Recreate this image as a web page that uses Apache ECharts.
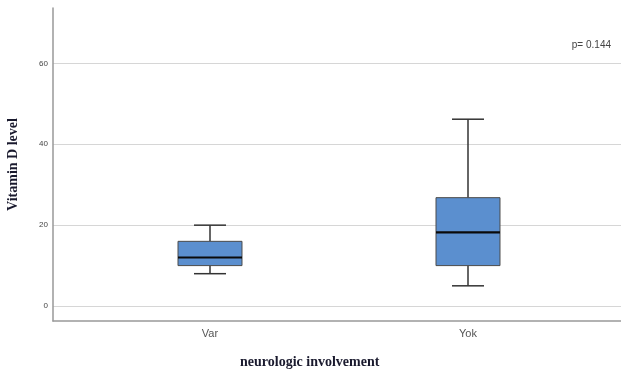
<!DOCTYPE html>
<html>
<head>
<meta charset="utf-8">
<script src="https://cdn.jsdelivr.net/npm/echarts@6/dist/echarts.min.js"></script>
<style>
  html, body { margin: 0; padding: 0; background: #fff; }
  #chart { width: 621px; height: 369px; }
</style>
</head>
<body>
<div id="chart"></div>
<script>
// Groups on the x axis
const categories = ['Var', 'Yok'];
// Five-number summaries per group: [lower whisker, Q1, median, Q3, upper whisker]
const boxStats = [
  [8, 10, 12, 16, 20],
  [5, 10, 18.2, 26.8, 46.2]
];
const yTicks = [0, 20, 40, 60];
const pValueText = 'p= 0.144';

const boxData = boxStats.map((s, i) => [i].concat(s));

const Y_MIN = -3.7, Y_MAX = 73.7;
const BOX_FRAC = 0.248;   // box width as share of the category band
const CAP_FRAC = 0.5;     // whisker cap width as share of the box width

function renderBox(params, api) {
  const idx = api.value(0);
  const band = api.size([1, 0])[0];
  const bw = band * BOX_FRAC;
  const cw = bw * CAP_FRAC;
  const lo = api.coord([idx, api.value(1)]);
  const q1 = api.coord([idx, api.value(2)]);
  const md = api.coord([idx, api.value(3)]);
  const q3 = api.coord([idx, api.value(4)]);
  const hi = api.coord([idx, api.value(5)]);
  const cx = q1[0];
  const whisker = { stroke: '#333', lineWidth: 1.5 };
  return {
    type: 'group',
    children: [
      { type: 'line', shape: { x1: cx, y1: hi[1], x2: cx, y2: q3[1] }, style: whisker },
      { type: 'line', shape: { x1: cx, y1: q1[1], x2: cx, y2: lo[1] }, style: whisker },
      { type: 'line', shape: { x1: cx - cw / 2, y1: hi[1], x2: cx + cw / 2, y2: hi[1] }, style: whisker },
      { type: 'line', shape: { x1: cx - cw / 2, y1: lo[1], x2: cx + cw / 2, y2: lo[1] }, style: whisker },
      {
        type: 'rect',
        shape: { x: cx - bw / 2, y: q3[1], width: bw, height: q1[1] - q3[1] },
        style: { fill: '#5b8fcf', stroke: '#4a4a4a', lineWidth: 1 }
      },
      { type: 'line', shape: { x1: cx - bw / 2, y1: md[1], x2: cx + bw / 2, y2: md[1] }, style: { stroke: '#0a0a0a', lineWidth: 2.2 } }
    ]
  };
}

const chart = echarts.init(document.getElementById('chart'), null, { renderer: 'canvas' });

chart.setOption({
  animation: false,
  backgroundColor: '#ffffff',
  grid: [
    // plotting grid for the boxes
    { left: 81, right: 24, top: 8, bottom: 48, outerBoundsMode: 'none', containLabel: false },
    // frame grid carrying axis lines and gridlines
    { left: 53, right: 0, top: 8, bottom: 48, outerBoundsMode: 'none', containLabel: false }
  ],
  xAxis: [
    {
      type: 'category', gridIndex: 0, data: categories,
      axisLine: { show: false }, axisTick: { show: false },
      axisLabel: { color: '#555', fontFamily: 'Liberation Sans', fontSize: 11, margin: 7 }
    },
    {
      type: 'value', gridIndex: 1, min: 0, max: 1,
      axisLine: { show: true, onZero: false, lineStyle: { color: '#999', width: 1.5 } },
      axisTick: { show: false }, axisLabel: { show: false }, splitLine: { show: false }
    }
  ],
  yAxis: [
    {
      type: 'value', gridIndex: 0, min: Y_MIN, max: Y_MAX,
      axisLine: { show: false }, axisTick: { show: false },
      axisLabel: { show: false }, splitLine: { show: false }
    },
    {
      type: 'value', gridIndex: 1, min: Y_MIN, max: Y_MAX,
      name: 'Vitamin D level', nameLocation: 'middle', nameGap: 33, nameRotate: 90,
      nameTextStyle: { fontFamily: 'Liberation Serif', fontWeight: 'bold', fontSize: 14, color: '#1a1a2e' },
      axisLine: { show: true, onZero: false, lineStyle: { color: '#999', width: 1.5 } },
      axisTick: { show: false, customValues: yTicks },
      axisLabel: { customValues: yTicks, color: '#444', fontFamily: 'Liberation Sans', fontSize: 8, margin: 5 },
      splitLine: { show: true, lineStyle: { color: '#d6d6d6', width: 1 } }
    }
  ],
  graphic: [
    {
      type: 'text', left: 240, top: 355,
      style: { text: 'neurologic involvement', font: 'bold 14px "Liberation Serif"', fill: '#1a1a2e' }
    },
    {
      type: 'text', right: 10, top: 40,
      style: { text: pValueText, font: '10px "Liberation Sans"', fill: '#444' }
    }
  ],
  series: [
    {
      type: 'custom', xAxisIndex: 0, yAxisIndex: 0,
      data: boxData,
      encode: { x: 0, y: [1, 2, 3, 4, 5] },
      renderItem: renderBox,
      silent: true
    }
  ]
});
</script>
</body>
</html>
